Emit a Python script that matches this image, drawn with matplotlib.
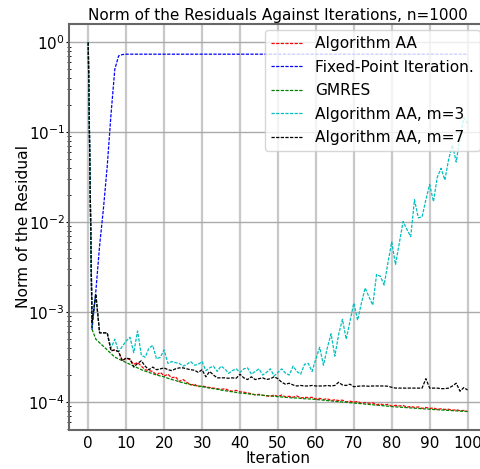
import matplotlib
matplotlib.use("Agg")
import matplotlib.pyplot as plt

iterations = list(range(101))

aa_full = [
    1.0, 7.59e-4, 1.58e-3, 5.89e-4, 5.89e-4, 5.89e-4, 3.72e-4, 3.80e-4, 3.63e-4, 2.88e-4,
    3.09e-4, 2.95e-4, 2.63e-4, 2.75e-4, 2.51e-4, 2.29e-4, 2.24e-4, 2.19e-4, 2.00e-4, 2.14e-4,
    1.95e-4, 2.04e-4, 1.86e-4, 1.91e-4, 1.70e-4, 1.78e-4, 1.66e-4, 1.55e-4, 1.58e-4, 1.48e-4,
    1.51e-4, 1.48e-4, 1.45e-4, 1.43e-4, 1.41e-4, 1.38e-4, 1.41e-4, 1.35e-4, 1.32e-4, 1.35e-4,
    1.30e-4, 1.29e-4, 1.26e-4, 1.24e-4, 1.20e-4, 1.22e-4, 1.19e-4, 1.17e-4, 1.16e-4, 1.20e-4,
    1.15e-4, 1.20e-4, 1.14e-4, 1.16e-4, 1.13e-4, 1.17e-4, 1.11e-4, 1.13e-4, 1.12e-4, 1.13e-4,
    1.08e-4, 1.10e-4, 1.07e-4, 1.09e-4, 1.04e-4, 1.06e-4, 1.04e-4, 1.05e-4, 1.005e-4, 1.024e-4,
    9.97e-5, 1.016e-4, 9.70e-5, 9.88e-5, 9.70e-5, 9.80e-5, 9.34e-5, 9.53e-5, 9.26e-5, 9.45e-5,
    9.00e-5, 9.20e-5, 9.05e-5, 9.17e-5, 8.76e-5, 8.95e-5, 8.72e-5, 8.83e-5, 8.51e-5, 8.72e-5,
    8.49e-5, 8.60e-5, 8.30e-5, 8.42e-5, 8.28e-5, 8.32e-5, 8.11e-5, 8.23e-5, 8.02e-5, 8.06e-5,
    7.85e-5,
]

fixed_point = [
    1.0, 6.46e-4, 1.70e-3, 5.50e-3, 1.41e-2, 4.17e-2, 1.58e-1, 5.01e-1, 0.708, 0.733,
    0.74, 0.74, 0.74, 0.74, 0.74, 0.74, 0.74, 0.74, 0.74, 0.74,
    0.74, 0.74, 0.74, 0.74, 0.74, 0.74, 0.74, 0.74, 0.74, 0.74,
    0.74, 0.74, 0.74, 0.74, 0.74, 0.74, 0.74, 0.74, 0.74, 0.74,
    0.74, 0.74, 0.74, 0.74, 0.74, 0.74, 0.74, 0.74, 0.74, 0.74,
    0.74, 0.74, 0.74, 0.74, 0.74, 0.74, 0.74, 0.74, 0.74, 0.74,
    0.74, 0.74, 0.74, 0.74, 0.74, 0.74, 0.74, 0.74, 0.74, 0.74,
    0.74, 0.74, 0.74, 0.74, 0.74, 0.74, 0.74, 0.74, 0.74, 0.74,
    0.74, 0.74, 0.74, 0.74, 0.74, 0.74, 0.74, 0.74, 0.74, 0.74,
    0.74, 0.74, 0.74, 0.74, 0.74, 0.74, 0.74, 0.74, 0.74, 0.74,
    0.74,
]

gmres = [
    1.0, 6.46e-4, 5.01e-4, 4.57e-4, 4.17e-4, 3.80e-4, 3.47e-4, 3.16e-4, 3.02e-4, 2.88e-4,
    2.75e-4, 2.63e-4, 2.51e-4, 2.40e-4, 2.29e-4, 2.21e-4, 2.14e-4, 2.07e-4, 2.00e-4, 1.95e-4,
    1.91e-4, 1.84e-4, 1.78e-4, 1.74e-4, 1.68e-4, 1.64e-4, 1.60e-4, 1.57e-4, 1.53e-4, 1.51e-4,
    1.48e-4, 1.46e-4, 1.43e-4, 1.41e-4, 1.39e-4, 1.36e-4, 1.34e-4, 1.32e-4, 1.30e-4, 1.28e-4,
    1.26e-4, 1.25e-4, 1.24e-4, 1.22e-4, 1.21e-4, 1.20e-4, 1.19e-4, 1.18e-4, 1.17e-4, 1.16e-4,
    1.15e-4, 1.14e-4, 1.13e-4, 1.12e-4, 1.11e-4, 1.11e-4, 1.10e-4, 1.09e-4, 1.085e-4, 1.08e-4,
    1.07e-4, 1.06e-4, 1.05e-4, 1.04e-4, 1.03e-4, 1.02e-4, 1.01e-4, 1.00e-4, 9.95e-5, 9.85e-5,
    9.77e-5, 9.68e-5, 9.60e-5, 9.50e-5, 9.42e-5, 9.33e-5, 9.25e-5, 9.16e-5, 9.08e-5, 9.00e-5,
    8.91e-5, 8.85e-5, 8.79e-5, 8.73e-5, 8.67e-5, 8.61e-5, 8.55e-5, 8.49e-5, 8.43e-5, 8.38e-5,
    8.32e-5, 8.27e-5, 8.22e-5, 8.17e-5, 8.12e-5, 8.08e-5, 8.03e-5, 7.99e-5, 7.94e-5, 7.90e-5,
    7.85e-5,
]

aa_m3 = [
    1.0, 7.59e-4, 1.58e-3, 5.89e-4, 5.89e-4, 5.89e-4, 3.98e-4, 5.01e-4, 3.63e-4, 4.17e-4,
    4.79e-4, 5.25e-4, 3.55e-4, 6.17e-4, 3.31e-4, 3.16e-4, 3.98e-4, 4.27e-4, 3.02e-4, 3.16e-4,
    3.80e-4, 2.69e-4, 2.82e-4, 2.75e-4, 2.69e-4, 2.51e-4, 2.63e-4, 2.82e-4, 2.57e-4, 2.63e-4,
    2.82e-4, 2.24e-4, 2.40e-4, 2.51e-4, 2.19e-4, 2.51e-4, 2.34e-4, 2.09e-4, 2.24e-4, 2.34e-4,
    2.14e-4, 2.34e-4, 2.40e-4, 2.04e-4, 2.19e-4, 2.34e-4, 2.00e-4, 2.14e-4, 2.34e-4, 1.95e-4,
    2.14e-4, 2.34e-4, 2.09e-4, 2.00e-4, 2.51e-4, 2.19e-4, 2.04e-4, 2.63e-4, 2.69e-4, 2.19e-4,
    3.02e-4, 4.07e-4, 2.57e-4, 3.98e-4, 5.75e-4, 3.24e-4, 5.62e-4, 8.32e-4, 5.01e-4, 7.94e-4,
    1.26e-3, 8.13e-4, 1.26e-3, 1.86e-3, 1.48e-3, 1.20e-3, 2.63e-3, 2.51e-3, 2.00e-3, 3.55e-3,
    6.03e-3, 3.39e-3, 5.89e-3, 1.02e-2, 8.32e-3, 6.92e-3, 1.78e-2, 1.12e-2, 1.15e-2, 1.78e-2,
    2.63e-2, 1.70e-2, 3.16e-2, 3.98e-2, 2.95e-2, 5.01e-2, 7.24e-2, 4.68e-2, 8.91e-2, 1.45e-1,
    1.26e-1,
]

aa_m7 = [
    1.0, 7.59e-4, 1.58e-3, 5.89e-4, 5.89e-4, 5.89e-4, 3.72e-4, 3.80e-4, 3.63e-4, 2.88e-4,
    3.09e-4, 3.02e-4, 2.45e-4, 2.69e-4, 2.88e-4, 2.51e-4, 2.29e-4, 2.45e-4, 2.29e-4, 2.34e-4,
    2.40e-4, 2.29e-4, 2.24e-4, 2.34e-4, 2.40e-4, 2.40e-4, 2.34e-4, 2.29e-4, 2.26e-4, 2.14e-4,
    2.29e-4, 1.91e-4, 2.19e-4, 2.00e-4, 1.86e-4, 1.86e-4, 1.86e-4, 1.84e-4, 1.86e-4, 1.84e-4,
    2.04e-4, 1.86e-4, 1.78e-4, 1.91e-4, 1.78e-4, 1.82e-4, 1.86e-4, 1.78e-4, 1.82e-4, 1.91e-4,
    1.82e-4, 1.66e-4, 1.58e-4, 1.62e-4, 1.55e-4, 1.51e-4, 1.53e-4, 1.51e-4, 1.51e-4, 1.53e-4,
    1.51e-4, 1.51e-4, 1.51e-4, 1.53e-4, 1.51e-4, 1.53e-4, 1.66e-4, 1.55e-4, 1.53e-4, 1.58e-4,
    1.48e-4, 1.50e-4, 1.51e-4, 1.51e-4, 1.50e-4, 1.51e-4, 1.51e-4, 1.51e-4, 1.51e-4, 1.50e-4,
    1.46e-4, 1.43e-4, 1.43e-4, 1.43e-4, 1.43e-4, 1.43e-4, 1.43e-4, 1.43e-4, 1.43e-4, 1.82e-4,
    1.43e-4, 1.43e-4, 1.43e-4, 1.41e-4, 1.41e-4, 1.43e-4, 1.51e-4, 1.62e-4, 1.32e-4, 1.45e-4,
    1.36e-4,
]

labels = ["Algorithm AA", "Fixed-Point Iteration.", "GMRES",
          "Algorithm AA, m=3", "Algorithm AA, m=7"]
colors = ["r", "b", "g", "c", "k"]
series = [aa_full, fixed_point, gmres, aa_m3, aa_m7]

plt.rcParams["font.size"] = 11

fig = plt.figure(figsize=(4.81, 4.69), dpi=100)
# the right edge of the axes runs past the figure, as in the cropped original
ax = fig.add_axes([0.144, 0.0832, 0.8676, 0.8657])

for ys, c, lab in zip(series, colors, labels):
    ax.plot(iterations, ys, linestyle="--", dashes=(2.6, 1.1), color=c,
            linewidth=0.9, label=lab)

ax.set_yscale("log")
ax.set_xticks(range(0, 101, 10))
ax.grid(True, axis="x", color="#c8c8c8", linewidth=1.6)
ax.grid(True, axis="y", which="major", color="#aaaaaa", linewidth=1.0)
ax.set_axisbelow(True)

for sp in ax.spines.values():
    sp.set_color("#666666")
    sp.set_linewidth(1.5)

ax.tick_params(axis="x", length=0, pad=4)
ax.tick_params(axis="y", which="major", length=2, pad=1.2)
ax.tick_params(axis="y", which="minor", length=3, direction="inout")

ax.set_title("Norm of the Residuals Against Iterations, n=1000", fontsize=11, pad=3)
ax.set_xlabel("Iteration", labelpad=0)
ax.set_ylabel("Norm of the Residual", fontsize=11.2)
ax.yaxis.set_label_coords(-0.092, 0.5)
ax.legend(loc="upper right", fontsize=11.1, labelspacing=0.55, handlelength=2.1,
          borderaxespad=0.4)

fig.savefig("out.png", dpi=100)
